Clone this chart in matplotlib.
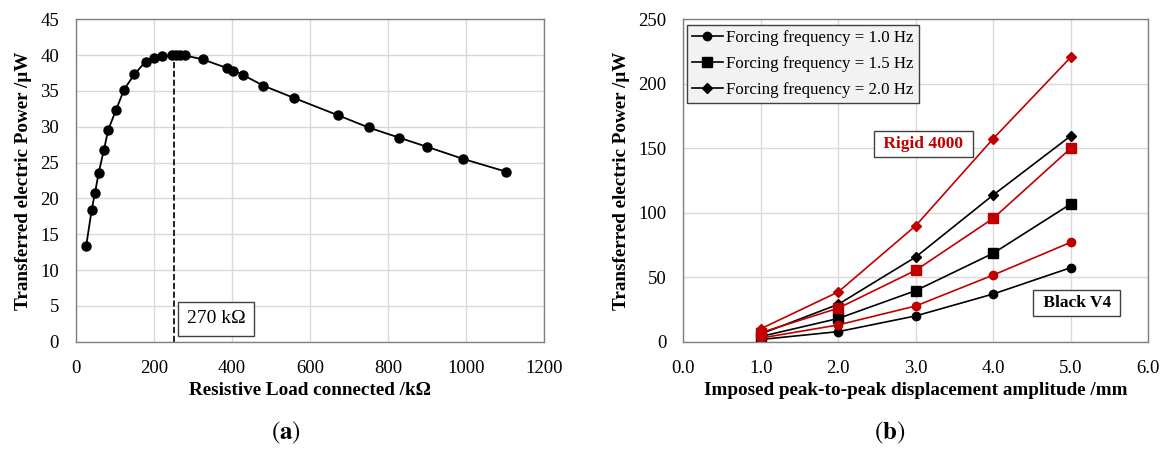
import numpy as np
import matplotlib
matplotlib.use("Agg")
import matplotlib.pyplot as plt

plt.rcParams['font.family'] = ['Liberation Serif', 'DejaVu Serif']
plt.rcParams['mathtext.fontset'] = 'stix'

# ===== data (a) =====
load_kohm = [27, 41, 49.5, 59, 72, 83.5, 103, 124, 150, 179, 201, 220, 246, 258, 267, 280,
             326, 387, 404, 428, 480, 560, 672, 750, 827, 900, 993, 1101]
power_uw = [13.4, 18.4, 20.8, 23.6, 26.7, 29.6, 32.3, 35.2, 37.3, 39.1, 39.6, 39.85, 39.95, 40.0,
            40.05, 39.95, 39.4, 38.2, 37.85, 37.25, 35.75, 34.0, 31.6, 29.9, 28.5, 27.2, 25.5, 23.75]
opt_load = 252
opt_power = 40.0

# ===== data (b) =====
amplitude = [1.0, 2.0, 3.0, 4.0, 5.0]
black_10 = [1.7, 7.8, 20.0, 37.0, 57.4]
black_15 = [4.0, 18.0, 39.6, 68.6, 106.8]
black_20 = [6.0, 29.0, 65.7, 113.8, 159.6]
red_10 = [2.8, 13.0, 27.7, 51.7, 77.1]
red_15 = [7.0, 26.0, 55.4, 95.7, 150.0]
red_20 = [10.0, 38.6, 90.0, 157.5, 220.6]
legend_labels = ["Forcing frequency = 1.0 Hz", "Forcing frequency = 1.5 Hz",
                 "Forcing frequency = 2.0 Hz"]

RED = '#c00000'
GRID = '#d9d9d9'
SPINE = '#808080'

fig = plt.figure(figsize=(11.66, 4.49), dpi=100)
ax1 = fig.add_axes([0.0649, 0.239, 0.4019, 0.718])
ax2 = fig.add_axes([0.586, 0.239, 0.3988, 0.718])

def style(ax):
    ax.grid(True, color=GRID, linewidth=1.0)
    ax.set_axisbelow(True)
    for s in ax.spines.values():
        s.set_color(SPINE)
        s.set_linewidth(1.0)
    ax.tick_params(axis='x', length=0, labelsize=13.5, pad=13)
    ax.tick_params(axis='y', length=0, labelsize=13.5, pad=12)

box = dict(boxstyle='square,pad=0.3', facecolor='white', edgecolor='#404040', linewidth=1.0)

# ----- (a) -----
style(ax1)
ax1.plot(load_kohm, power_uw, '-o', color='black', markersize=6.5, linewidth=1.3)
ax1.plot([opt_load, opt_load], [0, opt_power], '--', color='black', linewidth=1.2)
ax1.set_xlim(0, 1200)
ax1.set_ylim(0, 45)
ax1.set_xticks(np.arange(0, 1201, 200))
ax1.set_yticks(np.arange(0, 46, 5))
ax1.set_xlabel("Resistive Load connected /kΩ", fontsize=13.8, fontweight='bold', labelpad=4)
ax1.set_ylabel("Transferred electric Power /μW", fontsize=13.8, fontweight='bold', labelpad=6)
ax1.text(359, 3.2, "270 kΩ", fontsize=14, ha='center', va='center',
         bbox=dict(boxstyle='square,pad=0.45', facecolor='white', edgecolor='#404040', linewidth=1.0))

# ----- (b) -----
style(ax2)
ms = {'o': 6, 's': 6.5, 'D': 5}
h1, = ax2.plot(amplitude, black_10, '-o', color='black', markersize=ms['o'], linewidth=1.2)
h2, = ax2.plot(amplitude, black_15, '-s', color='black', markersize=ms['s'], linewidth=1.2)
h3, = ax2.plot(amplitude, black_20, '-D', color='black', markersize=ms['D'], linewidth=1.2)
ax2.plot(amplitude, red_10, '-o', color=RED, markersize=ms['o'], linewidth=1.2)
ax2.plot(amplitude, red_15, '-s', color=RED, markersize=ms['s'], linewidth=1.2)
ax2.plot(amplitude, red_20, '-D', color=RED, markersize=ms['D'], linewidth=1.2)
ax2.set_xlim(0, 6)
ax2.set_ylim(0, 250)
ax2.set_xticks(np.arange(0, 6.01, 1.0))
ax2.set_xticklabels([f"{v:.1f}" for v in np.arange(0, 6.01, 1.0)])
ax2.set_yticks(np.arange(0, 251, 50))
ax2.set_xlabel("Imposed peak-to-peak displacement amplitude /mm", fontsize=13.8,
               fontweight='bold', labelpad=4)
ax2.set_ylabel("Transferred electric Power /μW", fontsize=13.8, fontweight='bold', labelpad=6)
leg = ax2.legend([h1, h2, h3], legend_labels, loc='upper left', bbox_to_anchor=(0.008, 0.983),
                 fontsize=12.2, frameon=True, fancybox=False, facecolor='#f2f2f2',
                 edgecolor='#404040', framealpha=1, handlelength=1.8, borderpad=0.3,
                 labelspacing=0.6, handletextpad=0.2, borderaxespad=0)
leg.get_frame().set_linewidth(1.0)
ax2.text(3.10, 153.4, " Rigid 4000 ", color=RED, fontsize=12.5, fontweight='bold',
         ha='center', va='center', bbox=box)
ax2.text(5.08, 30, " Black V4 ", color='black', fontsize=12.5, fontweight='bold',
         ha='center', va='center', bbox=box)

fig.text(286 / 1166, 1 - 433 / 449, r"$(\mathbf{a})$", fontsize=18, ha='center', va='center')
fig.text(890 / 1166, 1 - 433 / 449, r"$(\mathbf{b})$", fontsize=18, ha='center', va='center')

fig.savefig("out.png", dpi=100)
